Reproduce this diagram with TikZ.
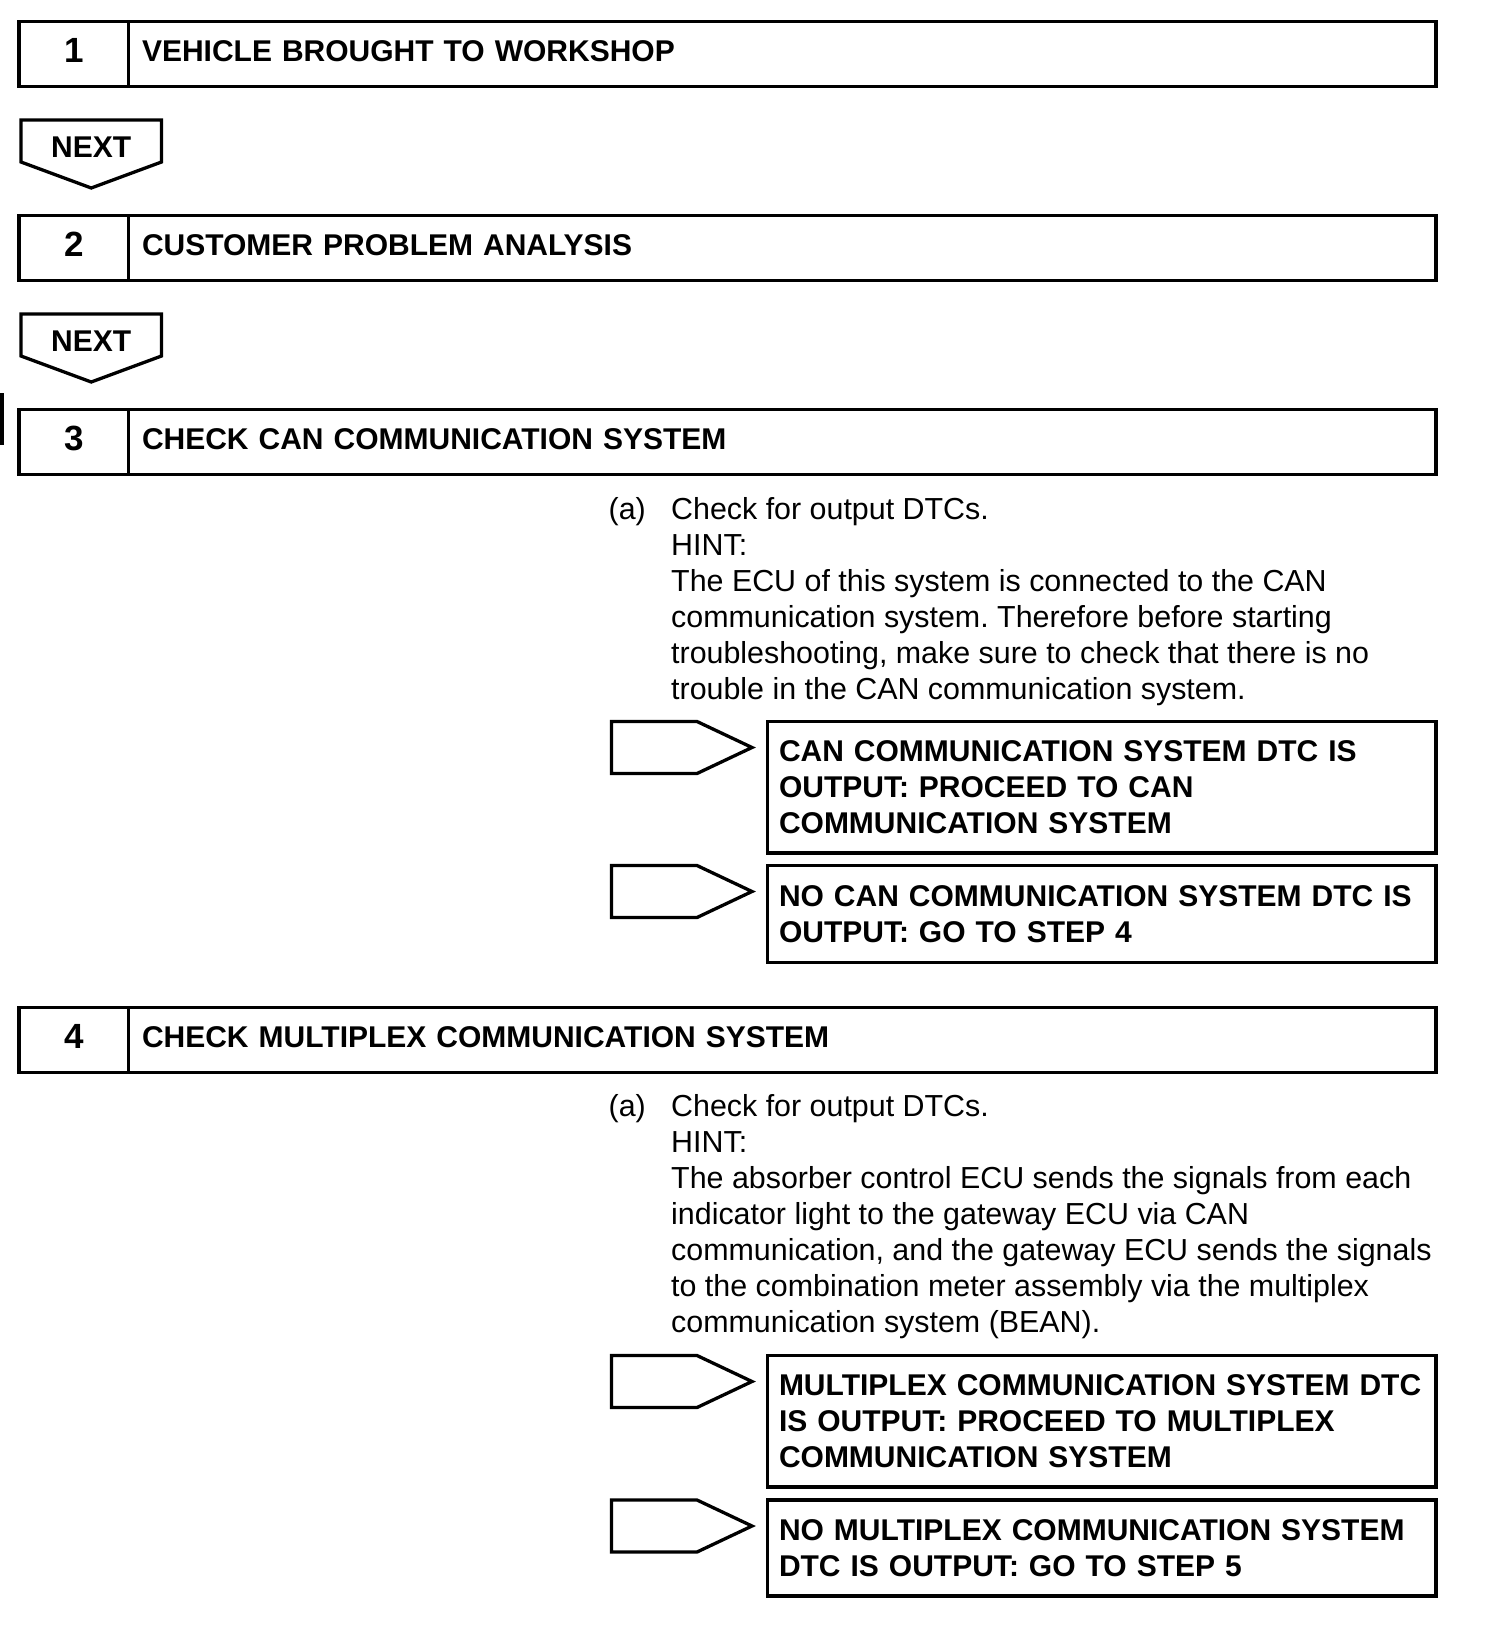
\documentclass[tikz,border=0pt]{standalone}
\usepackage{fontspec}
\setmainfont{Liberation Sans}
\usetikzlibrary{positioning}
\frenchspacing

\tikzset{
  frame/.style={draw, line width=3.3pt, outer sep=0pt},
  numcell/.style={frame, minimum width=109.5pt, minimum height=65pt, inner sep=0pt,
    font=\fontsize{35}{36}\selectfont\bfseries, text height=24pt, text depth=7pt},
  titlecell/.style={frame, minimum height=65pt, text width=1280.5pt, inner xsep=13.5pt,
    inner ysep=0pt, align=left, font=\fontsize{30}{36}\selectfont\bfseries,
    text height=22pt, text depth=7pt},
  resultbox/.style={frame, anchor=north west, text width=645.5pt, inner xsep=11.5pt,
    align=left, font=\fontsize{30}{36}\selectfont\bfseries},
  bodytext/.style={anchor=north west, inner sep=0pt, align=left,
    font=\fontsize{30.4}{36}\selectfont},
  nexttext/.style={inner sep=0pt, font=\fontsize{30}{36}\selectfont\bfseries},
}

\begin{document}
\begin{tikzpicture}[x=1pt,y=-1pt]
  \useasboundingbox (0,0) rectangle (1504,1644);

  % step 1
  \node[numcell] (n1) at (73.75,54) {1};
  \node[titlecell, right=0pt of n1] (t1) {VEHICLE BROUGHT TO WORKSHOP};
  \draw[frame] (21,120) -- (161.5,120) -- (161.5,162) -- (91.25,188) -- (21,162) -- cycle;
  \node[nexttext] (next1) at (91.25,147) {NEXT};

  % step 2
  \node[numcell] (n2) at (73.75,248) {2};
  \node[titlecell, right=0pt of n2] (t2) {CUSTOMER PROBLEM ANALYSIS};
  \draw[frame] (21,314) -- (161.5,314) -- (161.5,356) -- (91.25,382) -- (21,356) -- cycle;
  \node[nexttext] (next2) at (91.25,341) {NEXT};

  % step 3
  \draw[line width=4pt] (2,393) -- (2,445);
  \node[numcell] (n3) at (73.75,442) {3};
  \node[titlecell, right=0pt of n3] (t3) {CHECK CAN COMMUNICATION SYSTEM};
  \node[bodytext] (a3) at (608.5,494.3) {\strut(a)};
  \node[bodytext] (hint3) at (671,494.3) {\strut Check for output DTCs.\\
    HINT:\\
    The ECU of this system is connected to the CAN\\
    communication system. Therefore before starting\\
    troubleshooting, make sure to check that there is no\\
    trouble in the CAN communication system.};
  \node[resultbox, minimum height=131.5pt] (r1) at (767.5,721.5)
    {CAN COMMUNICATION SYSTEM DTC IS\\OUTPUT: PROCEED TO CAN\\COMMUNICATION SYSTEM};
  \node[resultbox, minimum height=97pt] (r2) at (767.5,865.5)
    {NO CAN COMMUNICATION SYSTEM DTC IS\\OUTPUT: GO TO STEP 4};

  % step 4
  \node[numcell] (n4) at (73.75,1040) {4};
  \node[titlecell, right=0pt of n4] (t4) {CHECK MULTIPLEX COMMUNICATION SYSTEM};
  \node[bodytext] (a4) at (608.5,1091.3) {\strut(a)};
  \node[bodytext] (hint4) at (671,1091.3) {\strut Check for output DTCs.\\
    HINT:\\
    The absorber control ECU sends the signals from each\\
    indicator light to the gateway ECU via CAN\\
    communication, and the gateway ECU sends the signals\\
    to the combination meter assembly via the multiplex\\
    communication system (BEAN).};
  \node[resultbox, minimum height=131.5pt] (r3) at (767.5,1355.5)
    {MULTIPLEX COMMUNICATION SYSTEM DTC\\IS OUTPUT: PROCEED TO MULTIPLEX\\COMMUNICATION SYSTEM};
  \node[resultbox, minimum height=96pt] (r4) at (767.5,1500)
    {NO MULTIPLEX COMMUNICATION SYSTEM\\DTC IS OUTPUT: GO TO STEP 5};

  % pointers in front of the result boxes
  \foreach \y in {721.5,865.5,1355.5,1500}
    \draw[frame] (611.5,\y) -- (697,\y) -- (752,\y+26) -- (697,\y+52) -- (611.5,\y+52) -- cycle;
\end{tikzpicture}
\end{document}
